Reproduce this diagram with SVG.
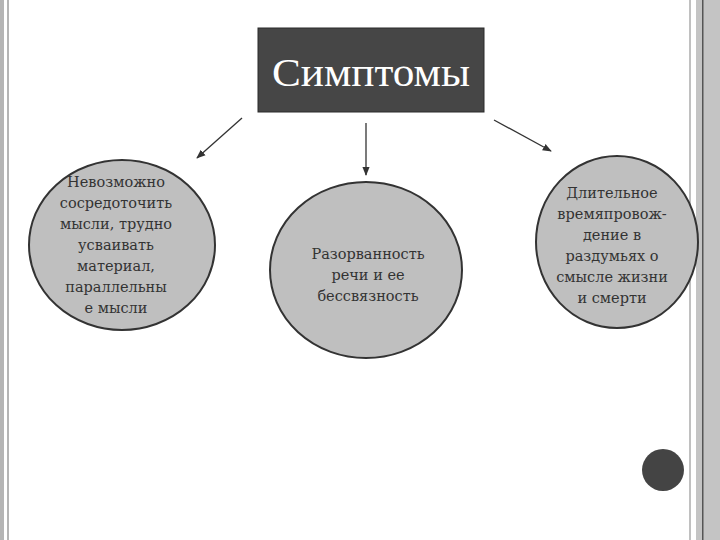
<svg xmlns="http://www.w3.org/2000/svg" width="720" height="540" viewBox="0 0 720 540">
<style>
.c{fill:#bfbfbf;stroke:#333;stroke-width:2}
.t{font-family:"DejaVu Serif",serif;font-size:14.5px;fill:#333;text-anchor:middle}
.a{stroke:#333;stroke-width:1.3;fill:none;marker-end:url(#m)}
</style>
<defs><marker id="m" viewBox="0 0 10 10" refX="9" refY="5" markerWidth="7" markerHeight="7" orient="auto"><path d="M0,1 L10,5 L0,9z" fill="#333"/></marker></defs>
<rect width="720" height="540" fill="#fff"/>
<rect x="0" y="0" width="4" height="540" fill="#b5b5b5"/>
<rect x="7" y="0" width="2" height="540" fill="#b5b5b5"/>
<rect x="689" y="0" width="2" height="540" fill="#c0c0c0"/>
<rect x="696" y="0" width="24" height="540" fill="#c4c4c4"/>
<rect x="702" y="0" width="1.5" height="540" fill="#555"/>
<g id="title"><rect x="258" y="28" width="226" height="84" fill="#464646" stroke="#2a2a2a"/>
<text x="272" y="86" font-family="Liberation Serif,serif" font-size="40" fill="#fff" textLength="198" lengthAdjust="spacingAndGlyphs">Симптомы</text></g>
<g id="connectors">
<line class="a" x1="242" y1="118" x2="197" y2="158"/>
<line class="a" x1="366" y1="123" x2="366" y2="175"/>
<line class="a" x1="494" y1="120" x2="551" y2="151"/>
</g>
<g id="n1"><ellipse class="c" cx="122" cy="245" rx="93" ry="85"/>
<text class="t"><tspan x="116" y="187">Невозможно</tspan><tspan x="116" y="208">сосредоточить</tspan><tspan x="116" y="229">мысли, трудно</tspan><tspan x="116" y="250">усваивать</tspan><tspan x="116" y="271">материал,</tspan><tspan x="116" y="292">параллельны</tspan><tspan x="116" y="313">е мысли</tspan></text></g>
<g id="n2"><ellipse class="c" cx="366" cy="270" rx="96" ry="88"/>
<text class="t"><tspan x="368" y="259">Разорванность</tspan><tspan x="368" y="280">речи и ее</tspan><tspan x="368" y="301">бессвязность</tspan></text></g>
<g id="n3"><ellipse class="c" cx="617" cy="242" rx="81" ry="86"/>
<text class="t"><tspan x="612" y="198">Длительное</tspan><tspan x="612" y="219">времяпровож-</tspan><tspan x="612" y="240">дение в</tspan><tspan x="612" y="261">раздумьях о</tspan><tspan x="612" y="282">смысле жизни</tspan><tspan x="612" y="303">и смерти</tspan></text></g>
<circle cx="663" cy="470" r="21" fill="#444"/>
</svg>
